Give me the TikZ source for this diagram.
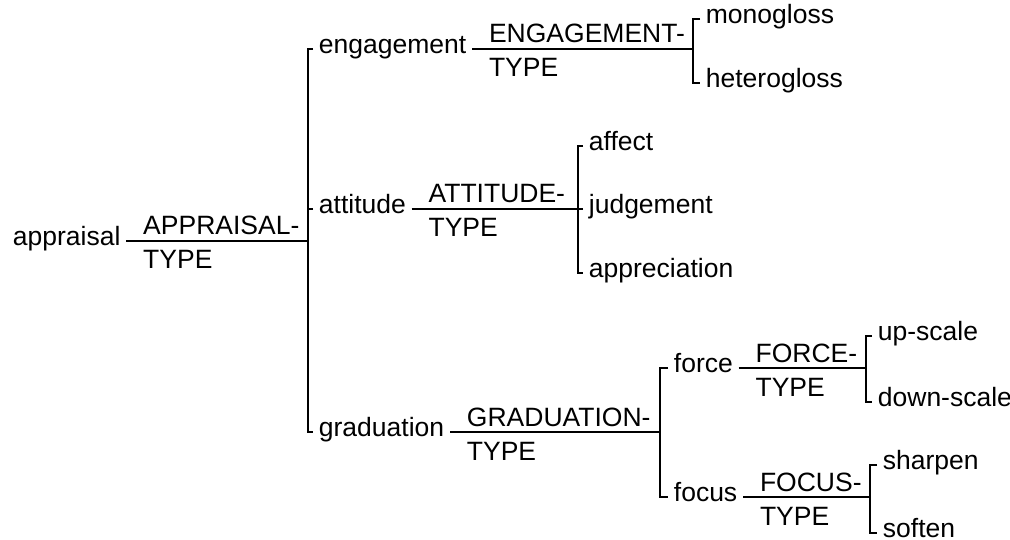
\documentclass[tikz,border=0pt]{standalone}
\usepackage{fontspec}
\setmainfont{Liberation Sans}
\usetikzlibrary{calc}

\begin{document}
\begin{tikzpicture}[x=1pt, y=-1pt, line width=1.8pt,
    every node/.style={font=\fontsize{26.5}{30}\selectfont, inner sep=0pt},
    feat/.style={anchor=west, inner xsep=5pt, text height=0.82em, text depth=0pt},
    systop/.style={anchor=base west},
    sysbot/.style={anchor=base west}]
            \useasboundingbox (0,0) rectangle (1010,540);

            % features
            \foreach \n/\x/\y/\t in {appraisal/7/241/appraisal,
                    engagement/313/49/engagement, attitude/313/209/attitude,
                    graduation/313/432/graduation,
                    monogloss/700/19/monogloss, heterogloss/700/83/heterogloss,
                    affect/583/146/affect, judgement/583/209/judgement,
                    appreciation/583/273/appreciation,
                    force/668/368/force, focus/668/497/focus,
                    upscale/872/336/up-scale, downscale/872/402/down-scale,
                    sharpen/877/465/sharpen, soften/877/533/soften} {
                \node[feat] (\n) at (\x, \y) {\t};
            }

            % bracket points
            \coordinate (b0) at (308, 241);
            \coordinate (b1) at (693, 49);
            \coordinate (b2) at (578, 209);
            \coordinate (b3) at (660, 432);
            \coordinate (b4) at (866, 368);
            \coordinate (b5) at (870, 497);

            % systems
            \foreach \f/\b/\t in {appraisal/b0/APPRAISAL-, engagement/b1/ENGAGEMENT-,
                    attitude/b2/ATTITUDE-, graduation/b3/GRADUATION-,
                    force/b4/FORCE-, focus/b5/FOCUS-} {
                \draw (\f.east) -- (\b);
                \node[systop] (\f-top) at ([xshift=16pt, yshift=6pt]\f.east) {\t};
                \node[sysbot] (\f-bot) at ([xshift=16pt, yshift=-28pt]\f.east) {TYPE};
            }

            \foreach \b/\u/\l in {b0/engagement/graduation, b1/monogloss/heterogloss,
                    b2/affect/appreciation, b3/force/focus,
                    b4/upscale/downscale, b5/sharpen/soften} {
                \draw (\u.west) -- (\u.west -| \b) -- (\l.west -| \b) -- (\l.west);
            }
            \draw (attitude.west) -- (attitude.west -| b0);
            \draw (judgement.west) -- (judgement.west -| b2);

        \end{tikzpicture}
\end{document}
